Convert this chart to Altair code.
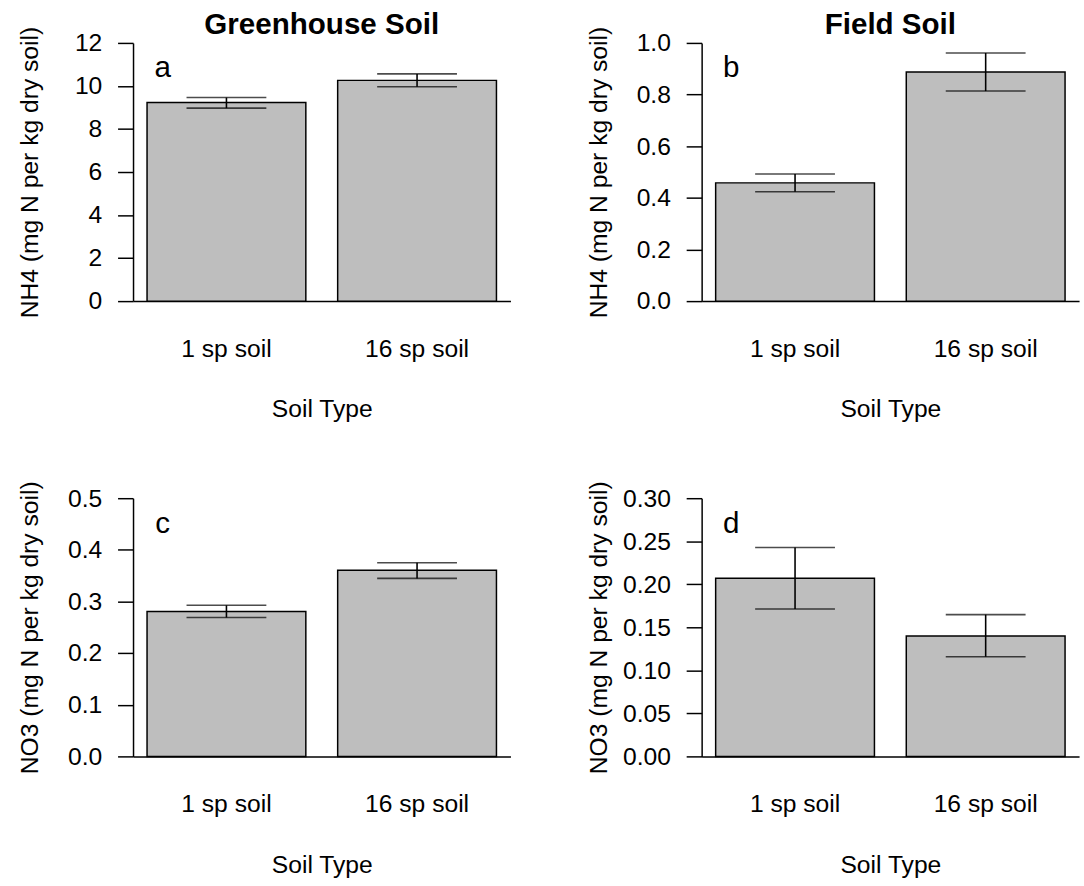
import altair as alt
import pandas as pd

FONT = "Liberation Sans"

soil_types = ["1 sp soil", "16 sp soil"]

# Greenhouse soil, NH4
gh_nh4_mean = [9.23, 10.26]
gh_nh4_lo = [8.97, 9.96]
gh_nh4_hi = [9.46, 10.56]

# Field soil, NH4
fd_nh4_mean = [0.458, 0.887]
fd_nh4_lo = [0.4235, 0.8136]
fd_nh4_hi = [0.4925, 0.961]

# Greenhouse soil, NO3
gh_no3_mean = [0.2805, 0.3607]
gh_no3_lo = [0.269, 0.3447]
gh_no3_hi = [0.2926, 0.375]

# Field soil, NO3
fd_no3_mean = [0.2071, 0.1399]
fd_no3_lo = [0.1712, 0.1158]
fd_no3_hi = [0.2427, 0.1647]

ticks_a = [0, 2, 4, 6, 8, 10, 12]
ticks_b = [0.0, 0.2, 0.4, 0.6, 0.8, 1.0]
ticks_c = [0.0, 0.1, 0.2, 0.3, 0.4, 0.5]
ticks_d = [0.00, 0.05, 0.10, 0.15, 0.20, 0.25, 0.30]

W = 383
H = 262


def panel(mean, lo, hi, ticks, fmt, ytitle, letter, title=None):
    df = pd.DataFrame({"soil": soil_types, "mean": mean, "lo": lo, "hi": hi})
    yscale = alt.Scale(domain=[ticks[0], ticks[-1]], nice=False, zero=True)
    x = alt.X(
        "soil:N",
        sort=soil_types,
        scale=alt.Scale(paddingInner=0.167, paddingOuter=0.0735),
        axis=alt.Axis(
            title="Soil Type",
            labelAngle=0,
            ticks=False,
            tickSize=0,
            domain=True,
            domainColor="black",
            domainWidth=1.5,
            labelPadding=56,
            labelBaseline="alphabetic",
            labelFontSize=25,
            labelColor="black",
            labelFont=FONT,
            titleFont=FONT,
            titleFontSize=25,
            titleFontWeight="normal",
            titleColor="black",
            titleX=W / 2,
            titleY=117.5,
            titleBaseline="alphabetic",
            titleAlign="center",
        ),
    )
    yaxis = alt.Axis(
        values=ticks,
        format=fmt,
        title=ytitle,
        grid=False,
        tickSize=15.7,
        tickWidth=1.5,
        tickColor="black",
        domainColor="black",
        domainWidth=1.5,
        labelPadding=16,
        labelFontSize=25,
        labelColor="black",
        labelFont=FONT,
        titleFont=FONT,
        titleFontSize=25,
        titleFontWeight="normal",
        titleColor="black",
        titleAngle=-90,
        titleX=-97,
        titleY=H / 2,
        titleBaseline="alphabetic",
        titleAlign="center",
    )
    base = alt.Chart(df)
    bars = base.mark_bar(fill="#BEBEBE", stroke="black", strokeWidth=1.5).encode(
        x=x, y=alt.Y("mean:Q", scale=yscale, axis=yaxis)
    )
    stem = base.mark_rule(color="black", strokeWidth=1.6).encode(
        x=alt.X("soil:N", sort=soil_types), y="lo:Q", y2="hi:Q"
    )
    cap_lo = base.mark_tick(color="black", thickness=1.6, size=81).encode(
        x=alt.X("soil:N", sort=soil_types), y="lo:Q"
    )
    cap_hi = base.mark_tick(color="black", thickness=1.6, size=81).encode(
        x=alt.X("soil:N", sort=soil_types), y="hi:Q"
    )
    tag = alt.Chart(pd.DataFrame({"t": [letter]})).mark_text(
        fontSize=30, font=FONT, align="center", baseline="alphabetic", color="black"
    ).encode(text="t:N", x=alt.value(30), y=alt.value(35))
    layers = [bars, stem, cap_lo, cap_hi, tag]
    if title:
        # panel heading, set just above the plotting region
        heading = alt.Chart(pd.DataFrame({"t": [title]})).mark_text(
            fontSize=30, font=FONT, fontWeight="bold", align="center",
            baseline="alphabetic", color="black"
        ).encode(text="t:N", x=alt.value(W / 2), y=alt.value(-9))
        layers.append(heading)
    return alt.layer(*layers).properties(width=W, height=H)


a = panel(gh_nh4_mean, gh_nh4_lo, gh_nh4_hi, ticks_a, "d",
          "NH4 (mg N per kg dry soil)", "a", "Greenhouse Soil")
b = panel(fd_nh4_mean, fd_nh4_lo, fd_nh4_hi, ticks_b, ".1f",
          "NH4 (mg N per kg dry soil)", "b", "Field Soil")
c = panel(gh_no3_mean, gh_no3_lo, gh_no3_hi, ticks_c, ".1f",
          "NO3 (mg N per kg dry soil)", "c")
d = panel(fd_no3_mean, fd_no3_lo, fd_no3_hi, ticks_d, ".2f",
          "NO3 (mg N per kg dry soil)", "d")

chart = alt.concat(
    a, b, c, d, columns=2, spacing={"row": 200, "column": 194}, bounds="flush"
).configure_view(stroke=None).properties(
    padding={"left": 17, "top": 4, "right": 5, "bottom": 5},
    background="white",
)

chart.save("out.html", embed_options={"renderer": "svg", "actions": False})
